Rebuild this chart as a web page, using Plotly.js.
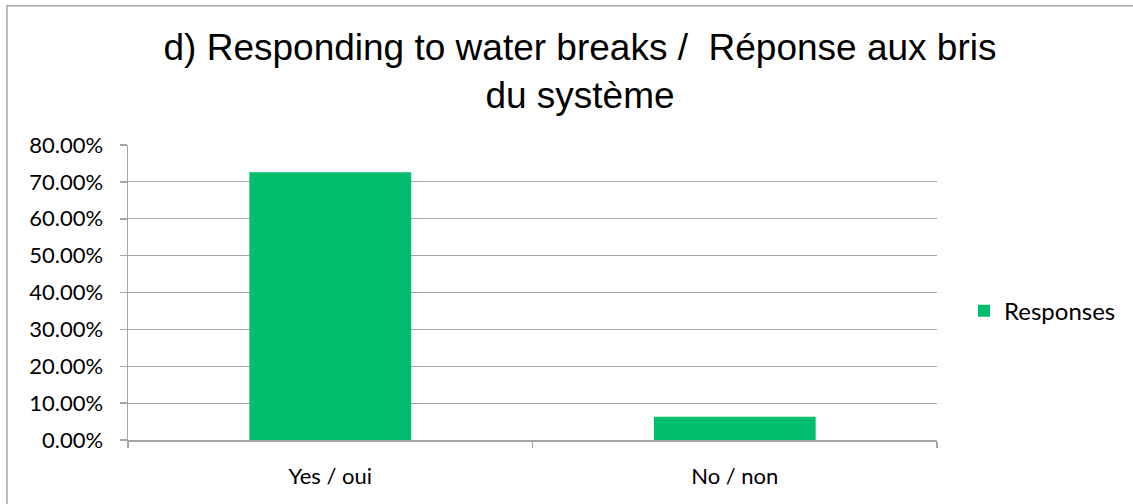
<!DOCTYPE html>
<html>
<head>
<meta charset="utf-8">
<script src="https://cdn.plot.ly/plotly-3.0.1.min.js"></script>
<style>
  html, body { margin: 0; padding: 0; background: #fff; }
  #chart { width: 1133px; height: 504px; }
</style>
</head>
<body>
<div id="chart"></div>
<script>
// Data
const categories = ["Yes / oui", "No / non"];
const responses = [0.726, 0.063];
const seriesName = "Responses";
const titleText = "d) Responding to water breaks / \u00a0Réponse aux bris<br>du système";

const W = 1133, H = 504;
const plotL = 128, plotR = 937, plotT = 144.5, plotB = 440;
const pw = plotR - plotL, ph = plotB - plotT;
const px = v => (v - plotL) / pw;
const py = v => (plotB - v) / ph;

const tickFont = { family: "Lato, 'Open Sans', sans-serif", size: 22, color: "#000000" };

const data = [{
  type: "bar",
  x: categories,
  y: responses,
  name: seriesName,
  marker: { color: "#00be6e" },
  showlegend: true,
  hoverinfo: "x+y"
}];

const layout = {
  width: W,
  height: H,
  paper_bgcolor: "#ffffff",
  plot_bgcolor: "#ffffff",
  margin: { l: plotL, r: W - plotR, t: plotT, b: H - plotB, pad: 0 },
  bargap: 0.6,
  showlegend: true,
  title: {
    text: titleText,
    font: { family: "'Liberation Sans', Arial, sans-serif", size: 37, color: "#000000" },
    xref: "container",
    yref: "container",
    x: 580 / W,
    xanchor: "center",
    y: 1 - 60 / H,
    yanchor: "top"
  },
  xaxis: {
    type: "category",
    showgrid: false,
    showline: true,
    linecolor: "#a6a6a6",
    linewidth: 1.5,
    ticks: "outside",
    tickson: "boundaries",
    ticklen: 6,
    tickwidth: 1.5,
    tickcolor: "#a6a6a6",
    tickfont: tickFont,
    ticklabelstandoff: 16,
    fixedrange: true,
    zeroline: false
  },
  yaxis: {
    range: [0, 0.8],
    dtick: 0.1,
    tick0: 0,
    tickformat: ".2%",
    showgrid: true,
    gridcolor: "#a6a6a6",
    gridwidth: 1.2,
    showline: true,
    linecolor: "#a6a6a6",
    linewidth: 1.5,
    ticks: "outside",
    ticklen: 7,
    tickwidth: 1.5,
    tickcolor: "#a6a6a6",
    tickfont: tickFont,
    ticklabelstandoff: 12,
    zeroline: false,
    fixedrange: true
  },
  legend: {
    xref: "paper",
    yref: "paper",
    x: px(964),
    xanchor: "left",
    y: py(311),
    yanchor: "middle",
    font: { family: "Lato, 'Open Sans', sans-serif", size: 24, color: "#000000" },
    bgcolor: "rgba(0,0,0,0)",
    borderwidth: 0
  },
  shapes: [{
    type: "rect",
    xref: "paper",
    yref: "paper",
    x0: px(7),
    x1: px(W + 40),
    y0: py(H + 40),
    y1: py(5),
    line: { color: "#a6a6a6", width: 1.5 },
    fillcolor: "rgba(0,0,0,0)",
    layer: "below"
  }]
};

Plotly.newPlot("chart", data, layout, { displayModeBar: false, staticPlot: true });
</script>
</body>
</html>
